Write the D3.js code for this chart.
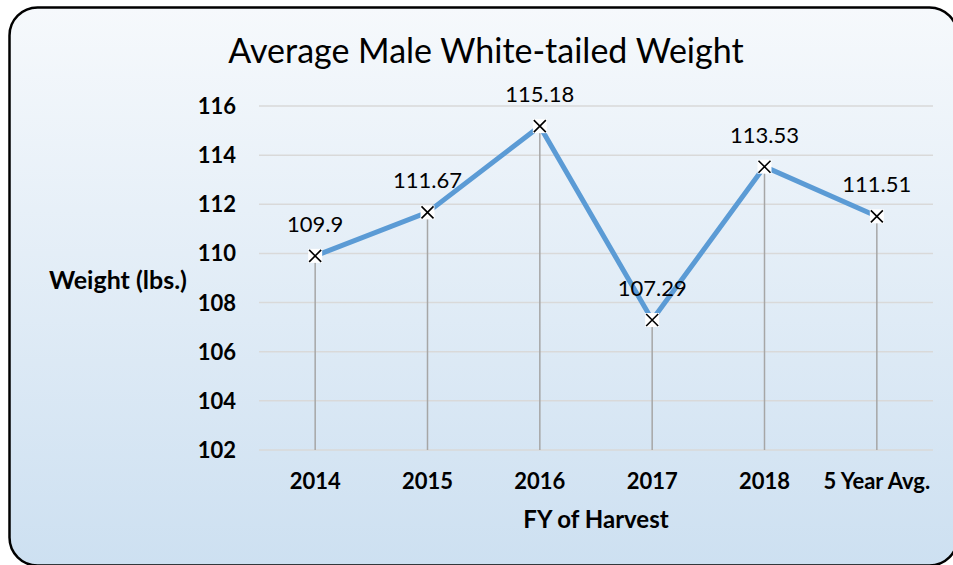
<!DOCTYPE html>
<html><head><meta charset="utf-8">
<script src="https://cdn.jsdelivr.net/npm/d3@7"></script>
<style>body{margin:0;background:#fff}svg{display:block}</style>
</head><body><svg id="c" width="953" height="565"></svg>
<script>
const categories = ["2014","2015","2016","2017","2018","5 Year Avg."];
const weights = [109.9, 111.67, 115.18, 107.29, 113.53, 111.51];
const labels = ["109.9","111.67","115.18","107.29","113.53","111.51"];
const yTicks = [102,104,106,108,110,112,114,116];
const title = "Average Male White-tailed Weight";
const yTitle = "Weight (lbs.)";
const xTitle = "FY of Harvest";

const svg = d3.select("#c");
const font = "Lato, 'Open Sans', sans-serif";
const defs = svg.append("defs");
const g = defs.append("linearGradient").attr("id","bg").attr("x1",0).attr("y1",0).attr("x2",0).attr("y2",1);
g.append("stop").attr("offset","0%").attr("stop-color","#f6f9fc");
g.append("stop").attr("offset","100%").attr("stop-color","#cde0f1");
svg.append("rect").attr("x",9.5).attr("y",7.5).attr("width",948).attr("height",558).attr("rx",28)
  .attr("fill","url(#bg)").attr("stroke","#000").attr("stroke-width",2.5);

const x = d3.scaleBand().domain(categories).range([259,933]);
const y = d3.scaleLinear().domain([102,116]).range([450,106]);

// gridlines
svg.append("g").selectAll("line").data(yTicks).join("line")
  .attr("x1",259).attr("x2",933).attr("y1",d=>y(d)).attr("y2",d=>y(d))
  .attr("stroke","#d9d9d9").attr("stroke-width",1.5);

// y tick labels
svg.append("g").selectAll("text").data(yTicks).join("text")
  .attr("x",236).attr("y",d=>y(d)+8).attr("text-anchor","end")
  .attr("font-family",font).attr("font-weight","bold").attr("font-size",22).text(d=>d);

// drop lines
const cx = d=>x(d)+x.bandwidth()/2;
svg.append("g").selectAll("line").data(categories).join("line")
  .attr("x1",cx).attr("x2",cx).attr("y1",(d,i)=>y(weights[i])).attr("y2",450)
  .attr("stroke","#a6a6a6").attr("stroke-width",1.5);

// x labels
svg.append("g").selectAll("text").data(categories).join("text")
  .attr("x",cx).attr("y",489).attr("text-anchor","middle")
  .attr("font-family",font).attr("font-weight","bold").attr("font-size",22).text(d=>d);

// line
const pts = categories.map((c,i)=>[cx(c), y(weights[i])]);
svg.append("path").attr("d",d3.line()(pts)).attr("fill","none")
  .attr("stroke","#5b9bd5").attr("stroke-width",5).attr("stroke-linejoin","miter");

// markers
const mk = svg.append("g").selectAll("g").data(pts).join("g").attr("transform",d=>`translate(${d[0]},${d[1]})`);
mk.append("rect").attr("x",-7).attr("y",-7).attr("width",14).attr("height",14).attr("fill","#fff");
mk.append("path").attr("d","M-6,-6L6,6M-6,6L6,-6").attr("stroke","#000").attr("stroke-width",1.6);

// data labels
svg.append("g").selectAll("text").data(pts).join("text")
  .attr("x",d=>d[0]).attr("y",d=>d[1]-24).attr("text-anchor","middle")
  .attr("font-family",font).attr("font-size",22).text((d,i)=>labels[i]);

svg.append("text").attr("x",486).attr("y",63).attr("text-anchor","middle")
  .attr("font-family",font).attr("font-size",34).text(title);
svg.append("text").attr("x",118).attr("y",289).attr("text-anchor","middle")
  .attr("font-family",font).attr("font-weight","bold").attr("font-size",25).text(yTitle);
svg.append("text").attr("x",596).attr("y",528).attr("text-anchor","middle")
  .attr("font-family",font).attr("font-weight","bold").attr("font-size",24).text(xTitle);
</script></body></html>
